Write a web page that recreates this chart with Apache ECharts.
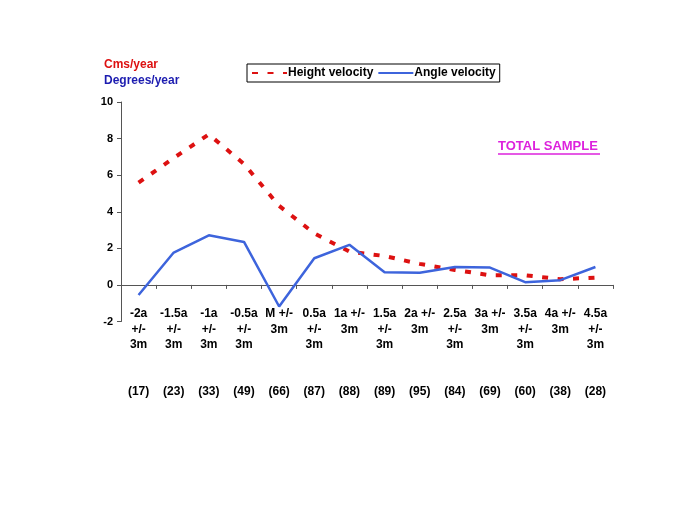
<!DOCTYPE html>
<html><head><meta charset="utf-8">
<script src="https://cdn.jsdelivr.net/npm/echarts@6/dist/echarts.min.js"></script>
<style>html,body{margin:0;padding:0;background:#fff}#c{width:685px;height:513px}</style>
</head><body><div id="c"></div>
<script>
const categories = ['-2a\n+/-\n3m','-1.5a\n+/-\n3m','-1a\n+/-\n3m','-0.5a\n+/-\n3m','M +/-\n3m','0.5a\n+/-\n3m','1a +/-\n3m','1.5a\n+/-\n3m','2a +/-\n3m','2.5a\n+/-\n3m','3a +/-\n3m','3.5a\n+/-\n3m','4a +/-\n3m','4.5a\n+/-\n3m'];
const sampleSizes = ['(17)','(23)','(33)','(49)','(66)','(87)','(88)','(89)','(95)','(84)','(69)','(60)','(38)','(28)'];
const heightVelocity = [5.59, 6.94, 8.23, 6.61, 4.32, 2.82, 1.82, 1.58, 1.15, 0.82, 0.53, 0.53, 0.31, 0.4];
const angleVelocity = [-0.55, 1.77, 2.71, 2.35, -1.18, 1.46, 2.19, 0.69, 0.66, 0.98, 0.95, 0.15, 0.26, 0.98];
const yTicks = [-2, 0, 2, 4, 6, 8, 10];

const FONT = 'Liberation Sans, Arial, sans-serif';
const chart = echarts.init(document.getElementById('c'), null, {renderer: 'canvas'});
chart.setOption({
  animation: false,
  backgroundColor: '#fff',
  textStyle: {fontFamily: FONT},
  grid: {left: 121, right: 72, top: 102, bottom: 191.5, containLabel: false},
  legend: {
    left: 247, top: 64, padding: [3, 4, 3, 4],
    borderColor: '#000', borderWidth: 1, borderRadius: 0,
    itemWidth: 35, itemHeight: 10, itemGap: 4,
    itemStyle: {color: 'transparent', borderColor: 'transparent', borderWidth: 0},
    textStyle: {fontFamily: FONT, fontWeight: 'bold', fontSize: 12, color: '#000', padding: [0,0,0,-4]},
    data: ['Height velocity', 'Angle velocity']
  },
  xAxis: [{
    type: 'category', data: categories, boundaryGap: true, position: 'bottom',
    axisLine: {onZero: true, lineStyle: {color: '#555', width: 1}},
    axisTick: {show: true, length: 4, inside: false, lineStyle: {color: '#555'}},
    axisLabel: {interval: 0, margin: -15.5, fontFamily: FONT, fontWeight: 'bold', fontSize: 12, color: '#000', lineHeight: 15.5, verticalAlign: 'top'},
    splitLine: {show: false}
  }, {
    type: 'category', data: sampleSizes, boundaryGap: true, position: 'bottom',
    axisLine: {show: false, onZero: false}, axisTick: {show: false},
    axisLabel: {interval: 0, margin: 64, fontFamily: FONT, fontWeight: 'bold', fontSize: 12, color: '#000'},
    splitLine: {show: false}
  }],
  yAxis: {
    type: 'value', min: yTicks[0], max: yTicks[yTicks.length - 1], interval: 2,
    axisLine: {show: true, lineStyle: {color: '#555', width: 1}},
    axisTick: {show: true, length: 4, lineStyle: {color: '#555'}},
    axisLabel: {margin: 8, fontFamily: FONT, fontWeight: 'bold', fontSize: 11, color: '#000'},
    splitLine: {show: false}
  },
  graphic: [
    {type: 'text', left: 104, top: 59, style: {text: 'Cms/year', fill: '#dd1111', font: 'bold 12px ' + FONT}},
    {type: 'text', left: 104, top: 75, style: {text: 'Degrees/year', fill: '#1c1cb0', font: 'bold 12px ' + FONT}},
    {type: 'text', left: 498, top: 140, style: {text: 'TOTAL SAMPLE', fill: '#dd22dd', font: 'bold 13px ' + FONT}},
    {type: 'line', shape: {x1: 498, y1: 154, x2: 600, y2: 154}, style: {stroke: '#dd22dd', lineWidth: 1.5}}
  ],
  series: [{
    name: 'Height velocity', type: 'line', data: heightVelocity, xAxisIndex: 0,
    symbol: 'none', smooth: false,
    lineStyle: {color: '#dd1111', width: 4, type: [6, 9.5]},
    itemStyle: {color: '#dd1111'}
  }, {
    name: 'Angle velocity', type: 'line', data: angleVelocity, xAxisIndex: 0,
    symbol: 'none', smooth: false,
    lineStyle: {color: '#3d64dc', width: 2.5, type: 'solid'},
    itemStyle: {color: '#3d64dc'}
  }]
});
</script></body></html>
